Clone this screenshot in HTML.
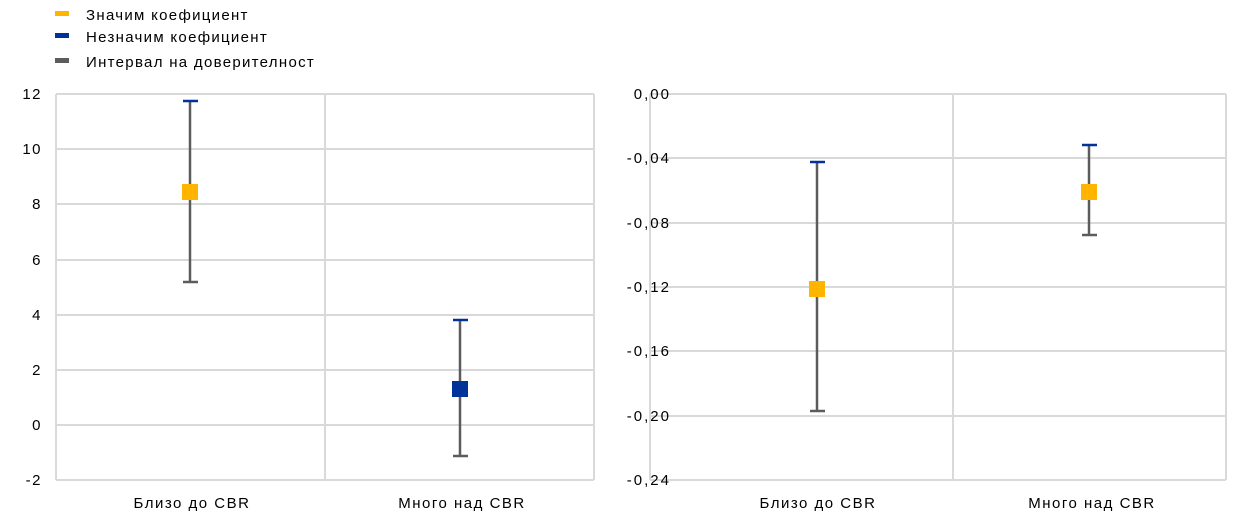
<!DOCTYPE html>
<html><head><meta charset="utf-8"><style>
body{margin:0;background:#fff;width:1240px;height:520px;overflow:hidden;font-family:"Liberation Sans",sans-serif}
</style></head><body>
<svg width="1240" height="520" xmlns="http://www.w3.org/2000/svg" font-family="Liberation Sans, sans-serif" font-size="15" fill="#000">
<!-- legend -->
<g letter-spacing="1.3">
<rect x="55" y="11" width="14" height="5" fill="#FFB400"/>
<text x="86" y="20">Значим  коефициент</text>
<rect x="55" y="33" width="14" height="5" fill="#003299"/>
<text x="86" y="42">Незначим коефициент</text>
<rect x="55" y="58" width="14" height="5" fill="#5c5c5c"/>
<text x="86" y="67">Интервал на доверителност</text>
</g>

<!-- left chart -->
<g stroke="#d9d9d9" stroke-width="2">
<line x1="56" y1="94" x2="594" y2="94"/><line x1="56" y1="149" x2="594" y2="149"/>
<line x1="56" y1="204" x2="594" y2="204"/><line x1="56" y1="260" x2="594" y2="260"/>
<line x1="56" y1="315" x2="594" y2="315"/><line x1="56" y1="370" x2="594" y2="370"/>
<line x1="56" y1="425" x2="594" y2="425"/><line x1="56" y1="480" x2="594" y2="480"/>
<line x1="56" y1="94" x2="56" y2="480"/><line x1="325" y1="94" x2="325" y2="480"/><line x1="594" y1="94" x2="594" y2="480"/>
</g>
<g text-anchor="end" letter-spacing="1.5">
<text x="42" y="99">12</text><text x="42" y="154">10</text><text x="42" y="209">8</text>
<text x="42" y="265">6</text><text x="42" y="320">4</text><text x="42" y="375">2</text>
<text x="42" y="430">0</text><text x="42" y="485">-2</text>
</g>
<g text-anchor="middle" letter-spacing="1.5">
<text x="192" y="508">Близо до CBR</text>
<text x="462" y="508">Много над CBR</text>
</g>
<line x1="190" y1="101" x2="190" y2="282" stroke="#5c5c5c" stroke-width="2.5"/>
<line x1="183" y1="101" x2="198" y2="101" stroke="#003299" stroke-width="2.5"/>
<line x1="183" y1="282" x2="198" y2="282" stroke="#5c5c5c" stroke-width="2.5"/>
<rect x="182" y="184" width="16" height="16" fill="#FFB400"/>
<line x1="460" y1="320" x2="460" y2="456" stroke="#5c5c5c" stroke-width="2.5"/>
<line x1="453" y1="320" x2="468" y2="320" stroke="#003299" stroke-width="2.5"/>
<line x1="453" y1="456" x2="468" y2="456" stroke="#5c5c5c" stroke-width="2.5"/>
<rect x="452" y="381" width="16" height="16" fill="#003299"/>

<!-- right chart -->
<g stroke="#d9d9d9" stroke-width="2">
<line x1="650" y1="94" x2="1226" y2="94"/><line x1="650" y1="158" x2="1226" y2="158"/>
<line x1="650" y1="223" x2="1226" y2="223"/><line x1="650" y1="287" x2="1226" y2="287"/>
<line x1="650" y1="351" x2="1226" y2="351"/><line x1="650" y1="416" x2="1226" y2="416"/>
<line x1="650" y1="480" x2="1226" y2="480"/>
<line x1="650" y1="94" x2="650" y2="480"/><line x1="953" y1="94" x2="953" y2="480"/><line x1="1226" y1="94" x2="1226" y2="480"/>
</g>
<g text-anchor="end" letter-spacing="2">
<text x="671" y="99">0,00</text><text x="671" y="163">-0,04</text><text x="671" y="228">-0,08</text>
<text x="671" y="292">-0,12</text><text x="671" y="356">-0,16</text><text x="671" y="421">-0,20</text>
<text x="671" y="485">-0,24</text>
</g>
<g text-anchor="middle" letter-spacing="1.5">
<text x="818" y="508">Близо до CBR</text>
<text x="1092" y="508">Много над CBR</text>
</g>
<line x1="817" y1="162" x2="817" y2="411" stroke="#5c5c5c" stroke-width="2.5"/>
<line x1="810" y1="162" x2="825" y2="162" stroke="#003299" stroke-width="2.5"/>
<line x1="810" y1="411" x2="825" y2="411" stroke="#5c5c5c" stroke-width="2.5"/>
<rect x="809" y="281" width="16" height="16" fill="#FFB400"/>
<line x1="1089" y1="145" x2="1089" y2="235" stroke="#5c5c5c" stroke-width="2.5"/>
<line x1="1082" y1="145" x2="1097" y2="145" stroke="#003299" stroke-width="2.5"/>
<line x1="1082" y1="235" x2="1097" y2="235" stroke="#5c5c5c" stroke-width="2.5"/>
<rect x="1081" y="184" width="16" height="16" fill="#FFB400"/>
</svg>
</body></html>
